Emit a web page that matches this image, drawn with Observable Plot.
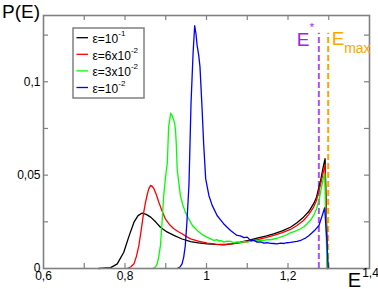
<!DOCTYPE html>
<html><head><meta charset="utf-8">
<script src="https://cdn.jsdelivr.net/npm/d3@7"></script>
<script src="https://cdn.jsdelivr.net/npm/@observablehq/plot@0.6"></script>
<style>body{margin:0;background:#fff;} svg{display:block}</style>
</head><body><div id="chart"></div>
<script>
// ---- data ----
const seriesNames = ["1e-1", "6e-2", "3e-2", "1e-2"];
const seriesBase = ["\u03b5=10", "\u03b5=6x10", "\u03b5=3x10", "\u03b5=10"];
const seriesExp = ["-1", "-2", "-2", "-2"];
const seriesColors = ["#000000", "#ff0000", "#00ff00", "#0000ff"];

const blackE = [0.735,0.765,0.781,0.797,0.809,0.822,0.832,0.842,0.852,0.863,0.875,0.887,0.903,0.920,0.940,0.961,0.980,1.002,1.022,1.042,1.062,1.083,1.103,1.124,1.145,1.165,1.186,1.206,1.222,1.238,1.251,1.263,1.270,1.275,1.280,1.284,1.287,1.291,1.297];
const blackP = [0,0.0005,0.0025,0.0087,0.0168,0.0248,0.0283,0.0297,0.0290,0.0275,0.0250,0.0221,0.0196,0.0177,0.0158,0.0144,0.0137,0.0132,0.0129,0.0127,0.0132,0.0141,0.0151,0.0163,0.0174,0.0186,0.0202,0.0221,0.0245,0.0275,0.0305,0.0347,0.0382,0.0427,0.0470,0.0516,0.0550,0.0588,0];

const redE = [0.805,0.814,0.822,0.828,0.834,0.840,0.846,0.850,0.854,0.858,0.863,0.867,0.871,0.877,0.883,0.891,0.899,0.909,0.920,0.930,0.940,0.950,0.961,0.980,1.002,1.022,1.042,1.062,1.083,1.103,1.124,1.145,1.165,1.186,1.206,1.222,1.238,1.251,1.263,1.270,1.275,1.280,1.284,1.288,1.291,1.297];
const redP = [0,0.0008,0.0025,0.0065,0.0123,0.0210,0.0302,0.0350,0.0391,0.0425,0.0445,0.0440,0.0427,0.0395,0.0355,0.0308,0.0266,0.0236,0.0213,0.0198,0.0186,0.0172,0.0159,0.0146,0.0136,0.0131,0.0129,0.0132,0.0138,0.0146,0.0154,0.0165,0.0177,0.0192,0.0209,0.0230,0.0257,0.0290,0.0329,0.0365,0.0409,0.0450,0.0490,0.0530,0.0556,0];

const greenE = [0.868,0.875,0.879,0.883,0.887,0.891,0.895,0.899,0.904,0.907,0.910,0.912,0.915,0.917,0.920,0.922,0.924,0.926,0.928,0.932,0.936,0.942,0.948,0.955,0.961,0.965,0.971,0.977,0.985,0.993,1.001,1.010,1.018,1.026,1.030,1.036,1.042,1.050,1.059,1.067,1.075,1.083,1.092,1.100,1.108,1.116,1.124,1.133,1.141,1.149,1.157,1.165,1.173,1.182,1.194,1.206,1.218,1.231,1.240,1.247,1.255,1.263,1.270,1.276,1.280,1.284,1.287,1.290,1.296];
const greenP = [0,0.0008,0.0025,0.0065,0.0123,0.0250,0.0390,0.0480,0.0570,0.0757,0.0800,0.0832,0.0822,0.0810,0.0792,0.0775,0.0740,0.0660,0.0534,0.0460,0.0390,0.0340,0.0302,0.0272,0.0248,0.0232,0.0218,0.0204,0.0190,0.0177,0.0168,0.0159,0.0150,0.0155,0.0147,0.0150,0.0141,0.0146,0.0145,0.0138,0.0143,0.0138,0.0145,0.0141,0.0147,0.0150,0.0146,0.0152,0.0150,0.0155,0.0154,0.0158,0.0162,0.0168,0.0178,0.0191,0.0200,0.0213,0.0225,0.0240,0.0258,0.0284,0.0320,0.0364,0.0410,0.0454,0.0485,0.0507,0];

const blueE = [0.928,0.935,0.940,0.944,0.948,0.952,0.957,0.962,0.967,0.971,0.974,0.977,0.981,0.984,0.989,0.993,0.998,1.006,1.014,1.026,1.034,1.042,1.050,1.059,1.067,1.075,1.083,1.092,1.100,1.108,1.116,1.124,1.133,1.141,1.149,1.157,1.165,1.173,1.182,1.190,1.198,1.206,1.214,1.222,1.231,1.238,1.243,1.251,1.259,1.267,1.276,1.284,1.290,1.295,1.299];
const blueP = [0,0.0008,0.0025,0.0060,0.0123,0.0250,0.0450,0.0882,0.1150,0.1300,0.1260,0.1195,0.1140,0.1080,0.0864,0.0668,0.0480,0.0390,0.0338,0.0284,0.0262,0.0240,0.0222,0.0204,0.0190,0.0177,0.0175,0.0165,0.0168,0.0150,0.0152,0.0141,0.0143,0.0136,0.0138,0.0135,0.0134,0.0132,0.0136,0.0134,0.0138,0.0140,0.0143,0.0145,0.0150,0.0158,0.0163,0.0175,0.0191,0.0208,0.0230,0.0284,0.0325,0.0160,0];

const xTickLabels = [0.6, 0.8, 1.0, 1.2];
const xLastTick = 1.4;
const xTickMarks = [0.7, 0.8, 0.9, 1.0, 1.1, 1.2, 1.3];
const yTickLabels = [0, 0.05, 0.1];
const yTickMarks = [0.025, 0.05, 0.075, 0.1, 0.125];
const eStar = 1.2757;
const eMax = 1.2986;
const markerTop = 0.126;

// ---- build ----
const allE = [blackE, redE, greenE, blueE];
const allP = [blackP, redP, greenP, blueP];
const data = [];
allE.forEach((es, i) => es.forEach((e, j) => data.push({series: seriesNames[i], E: e, P: allP[i][j]})));

const W = 378, H = 289, mL = 43, mR = 9, mT = 15, mB = 21;
const plotW = W - mL - mR, plotH = H - mT - mB;
const gray = "#808080";
const purple = "#a020f0", orange = "#ffa500";
const fmt = d => String(d).replace(".", ",");
const font = "'Liberation Sans', Arial, Helvetica, sans-serif";

const chart = Plot.plot({
  width: W, height: H,
  marginLeft: mL, marginRight: mR, marginTop: mT, marginBottom: mB,
  style: {fontFamily: font, fontSize: "12px", color: "#000", background: "#fff"},
  x: {domain: [0.6, 1.4]},
  y: {domain: [0, 0.1355]},
  color: {domain: seriesNames, range: seriesColors},
  marks: [
    Plot.axisX({ticks: xTickLabels, tickSize: 0, tickPadding: 3, tickFormat: fmt, label: null}),
    Plot.axisY({ticks: yTickLabels, tickSize: 0, tickPadding: 3, tickFormat: fmt, label: null}),
    Plot.tickX(xTickMarks, {x: d => d, insetTop: plotH - 5, stroke: gray, strokeWidth: 1.2}),
    Plot.tickX(xTickMarks, {x: d => d, insetBottom: plotH - 5, stroke: gray, strokeWidth: 1.2}),
    Plot.tickY(yTickMarks, {y: d => d, insetRight: plotW - 5, stroke: gray, strokeWidth: 1.2}),
    Plot.tickY(yTickMarks, {y: d => d, insetLeft: plotW - 5, stroke: gray, strokeWidth: 1.2}),
    Plot.ruleX([eStar], {x: d => d, y1: 0, y2: markerTop, stroke: purple, strokeWidth: 2, strokeDasharray: "6,3", strokeOpacity: 0.8}),
    Plot.ruleX([eMax], {x: d => d, y1: 0, y2: markerTop, stroke: orange, strokeWidth: 2, strokeDasharray: "6,3"}),
    Plot.line(data, {x: "E", y: "P", z: "series", stroke: "series", strokeWidth: 1.3}),
    Plot.frame({stroke: gray, strokeWidth: 1.6})
  ]
});
document.getElementById("chart").appendChild(chart);

const svg = d3.select(chart);
const sx = chart.scale("x"), sy = chart.scale("y");
const g = svg.append("g").attr("font-family", font).attr("text-anchor", "start");

// y title
g.append("text").attr("x", 2).attr("y", 17.5).attr("font-size", 19).text("P(E)");
// x title with last tick as superscript
g.append("text").attr("x", sx.apply(xLastTick) - 8).attr("y", 286.5).attr("font-size", 20)
  .attr("text-anchor", "end").text("E");
g.append("text").attr("x", sx.apply(xLastTick) + 1.5).attr("y", 277).attr("font-size", 12)
  .attr("text-anchor", "middle").text(fmt(xLastTick));

// E* label
const xs = sx.apply(eStar);
g.append("text").attr("x", xs - 9).attr("y", 46).attr("font-size", 19).attr("fill", purple)
  .attr("text-anchor", "end").text("E");
g.append("text").attr("x", xs - 8.5).attr("y", 31).attr("font-size", 11).attr("fill", purple).text("*");
// Emax label
const xm = sx.apply(eMax);
g.append("text").attr("x", xm + 4).attr("y", 45).attr("font-size", 19).attr("fill", orange).text("E");
g.append("text").attr("x", xm + 16.5).attr("y", 53).attr("font-size", 14).attr("fill", orange).text("max");

// legend
const lg = svg.append("g").attr("font-family", font).attr("text-anchor", "start");
lg.append("rect").attr("x", 73).attr("y", 28).attr("width", 71).attr("height", 70)
  .attr("fill", "#fff").attr("stroke", gray).attr("stroke-width", 1.5);
seriesNames.forEach((s, i) => {
  const yy = 37.7 + i * 16.6;
  lg.append("line").attr("x1", 76.5).attr("x2", 88).attr("y1", yy).attr("y2", yy)
    .attr("stroke", seriesColors[i]).attr("stroke-width", 1.3);
  const t = lg.append("text").attr("x", 92.5).attr("y", yy + 5.5).attr("font-size", 12);
  t.append("tspan").text(seriesBase[i]);
  t.append("tspan").attr("font-size", 8).attr("dy", -7).text(seriesExp[i]);
});
</script>
</body></html>
